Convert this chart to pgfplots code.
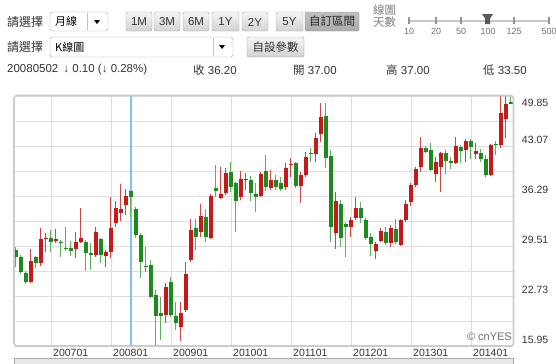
\documentclass[border=0pt]{standalone}
\usepackage{pgfplots}
\pgfplotsset{compat=1.18}
\usepackage{pgfplotstable}
\usepackage{fontspec}
\setmainfont{Liberation Sans}
\newfontfamily\cjk{Noto Sans CJK TC}
\definecolor{upred}{HTML}{C41A1A}
\definecolor{dngreen}{HTML}{1E8A1E}
\definecolor{upwick}{HTML}{D04545}
\definecolor{dnwick}{HTML}{5DAE5D}
\definecolor{gridc}{HTML}{DEDEDE}
\definecolor{framec}{HTML}{CCCCCC}
\definecolor{selblue}{HTML}{7CC4EE}
\definecolor{txt}{HTML}{333333}
\newcommand\fs[1]{\fontsize{#1bp}{#1bp}\selectfont}

\pgfplotstableread{
k O H L C
-4 24.67 29.06 24.53 27.48
-2 27.25 31.95 26.80 30.42
-1 30.42 31.27 28.74 30.59
1 30.23 31.77 29.88 30.42
5 29.10 31.37 27.84 30.01
6 30.01 34.70 29.88 30.55
9 28.29 32.13 28.06 31.37
11 28.15 28.97 26.62 28.74
12 28.74 36.11 27.84 31.91
13 32.59 35.65 32.04 34.62
14 33.94 37.88 32.94 34.49
15 35.07 37.20 33.71 36.29
23 20.15 24.45 19.03 23.99
26 18.57 21.96 16.67 20.38
27 20.83 27.38 20.56 25.67
28 27.61 33.13 27.34 31.68
30 31.45 35.20 30.77 33.58
32 30.55 36.56 30.42 36.29
34 36.06 40.18 35.98 36.56
35 36.74 40.04 36.42 39.37
38 36.11 39.72 35.75 38.55
39 38.46 39.37 37.10 38.59
42 36.29 39.58 36.19 39.27
44 37.37 39.81 37.10 38.46
47 37.55 40.72 37.10 40.04
48 40.49 41.40 38.91 40.63
50 37.69 39.58 35.30 39.14
51 39.14 42.21 38.91 41.62
53 41.94 44.79 40.94 44.19
54 44.66 48.86 43.65 47.04
57 31.23 36.87 29.10 35.61
60 32.13 33.48 30.77 33.03
61 33.35 36.11 33.03 34.62
65 28.87 30.09 27.71 29.78
66 30.23 31.91 30.09 31.58
68 29.96 32.36 29.33 31.91
70 29.64 33.13 29.51 33.03
71 33.03 35.75 32.80 35.20
72 35.52 38.01 34.93 37.78
73 37.78 40.26 37.55 39.91
74 40.26 44.33 39.58 42.76
77 39.31 41.58 38.19 40.90
78 40.22 42.25 36.83 42.12
81 40.80 44.29 40.67 43.03
83 42.49 44.06 40.90 43.71
85 42.02 43.52 41.35 42.35
88 39.18 43.38 39.10 43.24
90 43.24 49.85 42.76 47.58
91 46.69 49.85 44.15 48.80
}\upcandles

\pgfplotstableread{
k O H L C
-7 28.97 29.41 26.70 28.06
-6 27.98 28.29 25.71 26.02
-5 25.81 26.16 24.36 24.67
-3 27.98 28.15 26.49 27.16
0 30.55 31.68 28.74 30.09
2 30.09 30.32 28.06 29.88
3 29.28 32.13 28.87 29.10
4 29.20 30.19 28.15 28.87
7 30.09 30.32 26.16 28.52
8 28.60 29.88 26.26 28.29
10 30.42 30.55 27.16 28.29
16 37.00 37.00 33.50 36.20
17 34.49 34.84 30.59 31.00
18 31.00 31.23 25.13 27.38
19 26.84 29.41 26.02 26.62
20 26.93 27.61 22.42 22.63
21 22.87 23.54 16.09 20.06
22 20.47 22.63 16.76 20.06
24 24.67 25.35 19.92 20.15
25 20.06 21.96 18.12 19.03
29 31.99 33.13 28.97 30.77
31 33.48 34.49 30.09 30.77
33 37.33 40.49 36.11 36.97
36 39.50 40.94 36.87 37.55
37 38.01 38.23 31.37 35.65
40 38.46 39.00 35.61 36.74
41 36.52 38.01 34.08 36.19
43 39.72 41.85 36.97 37.55
45 38.46 39.14 37.10 37.55
46 38.01 38.91 36.97 37.24
49 40.80 40.94 37.33 37.69
52 42.08 42.84 40.94 41.94
55 47.18 48.86 40.13 41.40
56 41.75 42.53 30.09 32.13
58 35.16 35.75 29.41 30.55
59 32.45 32.80 28.06 32.13
62 34.62 35.52 32.67 33.35
63 33.03 33.27 30.32 30.55
64 30.69 31.23 28.15 29.78
67 31.45 32.04 29.64 29.88
69 31.81 33.13 29.78 30.09
75 42.76 43.07 42.08 42.30
76 42.49 43.43 39.72 39.77
79 42.12 42.49 39.31 41.03
80 40.99 41.58 39.99 40.80
82 42.93 43.16 40.76 42.35
84 43.71 44.06 41.35 42.93
86 42.12 42.70 40.90 41.35
87 41.35 41.81 38.87 39.10
89 43.38 43.71 41.81 43.24
92 49.03 49.67 48.80 48.80
}\downcandles

\pgfplotsset{candle/.style={only marks,mark=*,mark size=0pt,mark options={draw=none,fill=none}}}

\begin{document}
\begin{tikzpicture}
% ---------- header controls (pixel coordinates, y downwards) ----------
\begin{scope}[x=1bp,y=-1bp,every node/.style={inner sep=0pt}]
  \fill[white] (0,0) rectangle (556,363);
  % row 1
  \node[anchor=west,text=txt,font=\cjk\fs{12}] at (7,22.5) {請選擇};
  \draw[rounded corners=2.5bp,draw=gray!70,fill=white] (50,12) rectangle (108,31);
  \draw[gray!50] (87,13) -- (87,30);
  \fill[black] (94,20) -- (100,20) -- (97,24) -- cycle;
  \node[anchor=west,text=black,font=\cjk\fs{11}] at (55,21.5) {月線};
  \foreach \a/\b/\t in {126/152/1M,154/180/3M,183/209/6M,212/239/1Y,242/268/2Y,276/303/5Y}{
    \draw[rounded corners=1.5bp,draw=gray!70,top color=gray!8,bottom color=gray!35] (\a,12) rectangle (\b,31);
    \node[text=txt,font=\fs{11.5}] at ({(\a+\b)/2},22) {\t};
  }
  \draw[rounded corners=1.5bp,draw=gray!85,top color=gray!50,bottom color=gray!65] (305,12) rectangle (359,31);
  \node[text=black!85,font=\cjk\fs{11.5}] at (332,21.5) {自訂區間};
  \node[text=gray,font=\cjk\fs{11.5}] at (384.5,10.5) {線圖};
  \node[text=gray,font=\cjk\fs{11.5}] at (384.5,22.5) {天數};
  \draw[gray!45,line width=2bp] (408,20.5) -- (549,20.5);
  \foreach \x/\t in {409/10,436/20,461/50,488/100,514/125,549/500}{
    \draw[gray!85,line width=1.3bp] (\x,17) -- (\x,24);
    \node[text=gray!90!black,font=\fs{9}] at (\x,31) {\t};
  }
  \fill[gray!70!black] (482,14) -- (493,14) -- (490,18.5) -- (490,24) -- (485,24) -- (485,18.5) -- cycle;
  % row 2
  \node[anchor=west,text=txt,font=\cjk\fs{12}] at (7,47.5) {請選擇};
  \draw[rounded corners=2.5bp,draw=gray!70,fill=white] (50,37) rectangle (233,57);
  \draw[gray!50] (213,38) -- (213,56);
  \fill[black] (219,45) -- (225,45) -- (222,49) -- cycle;
  \node[anchor=west,text=black,font=\cjk\fs{11}] at (55,47) {K線圖};
  \draw[rounded corners=1.5bp,draw=gray!70,top color=gray!8,bottom color=gray!35] (247,37) rectangle (304,57);
  \node[text=txt,font=\cjk\fs{11.5}] at (275.5,47) {自設參數};
  % row 3
  \node[anchor=west,text=txt,font=\fs{11.5}] at (7,70) {20080502\, ↓ 0.10 (↓ 0.28\%)};
  \node[anchor=west,text=txt,font=\fs{11.5}] at (193,70) {{\cjk 收} 36.20};
  \node[anchor=west,text=txt,font=\fs{11.5}] at (293,70) {{\cjk 開} 37.00};
  \node[anchor=west,text=txt,font=\fs{11.5}] at (386,70) {{\cjk 高} 37.00};
  \node[anchor=west,text=txt,font=\fs{11.5}] at (483,70) {{\cjk 低} 33.50};
  % bottom scroll bar
  \draw[draw=gray!70,fill=gray!18] (14,358) rectangle (513,366);
\end{scope}

% ---------- candlestick chart ----------
\begin{axis}[
  at={(14bp,-346bp)}, anchor=south west,
  scale only axis, width=499bp, height=250bp,
  xmin=-7.34, xmax=92.46, ymin=15.95, ymax=49.85,
  axis line style={draw=none},
  major tick length=0pt,
  xtick={0.2,12.2,24.2,36.2,48.2,60.2,72.2,84.2},
  xticklabels={200701,200801,200901,201001,201101,201201,201301,201401},
  ytick={15.95,19.34,22.73,26.12,29.51,32.90,36.29,39.68,43.07,46.46,49.85},
  yticklabels={15.95,{},22.73,{},29.51,{},36.29,{},43.07,{},{}},
  yticklabel pos=right,
  grid=major,
  major grid style={draw=gridc,line width=1bp},
  xticklabel style={anchor=north west,inner sep=0pt,xshift=1.3bp,yshift=-3.3bp,font=\fs{10.5},text=txt},
  yticklabel style={anchor=west,inner sep=0pt,xshift=8.7bp,yshift=5.7bp,font=\fs{10.5},text=txt},
  clip=false,
]
\addplot[selblue,line width=1.8bp] coordinates {(16,15.95) (16,49.85)};
% wicks
\addplot[candle,error bars/.cd,y dir=both,y explicit,error mark=none,
  error bar style={line width=1bp,color=upwick}]
  table[x=k,y=O,y error plus expr=\thisrow{H}-\thisrow{O},y error minus expr=\thisrow{O}-\thisrow{L}] {\upcandles};
\addplot[candle,error bars/.cd,y dir=both,y explicit,error mark=none,
  error bar style={line width=1bp,color=dnwick}]
  table[x=k,y=O,y error plus expr=\thisrow{H}-\thisrow{O},y error minus expr=\thisrow{O}-\thisrow{L}] {\downcandles};
% bodies
\addplot[candle,error bars/.cd,y dir=plus,y explicit,error mark=none,
  error bar style={line width=3.7bp,color=upred}]
  table[x=k,y=O,y error plus expr=\thisrow{C}-\thisrow{O}] {\upcandles};
\addplot[candle,error bars/.cd,y dir=minus,y explicit,error mark=none,
  error bar style={line width=3.7bp,color=dngreen}]
  table[x=k,y=O,y error minus expr=\thisrow{O}-\thisrow{C}] {\downcandles};
\node[anchor=west,inner sep=0pt,xshift=8.7bp,yshift=-7bp,font=\fs{10.5},text=txt] at (rel axis cs:1,1) {49.85};
\end{axis}

\begin{scope}[x=1bp,y=-1bp,every node/.style={inner sep=0pt}]
  \draw[framec,line width=1.6bp,rounded corners=3bp] (14,95.5) rectangle (513.5,346);
  \node[anchor=base east,text=gray!85!black,font=\fs{11}] at (512,340.5) {© cnYES};
  \pgfresetboundingbox
  \path (0,0) rectangle (556,363);
\end{scope}
\end{tikzpicture}
\end{document}
